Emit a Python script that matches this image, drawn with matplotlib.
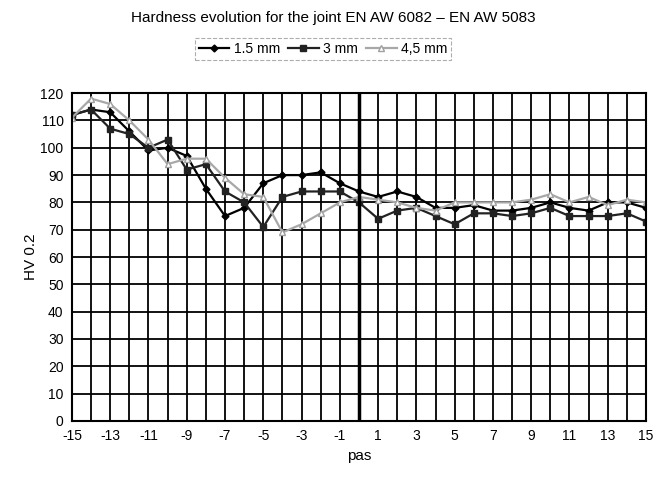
import matplotlib
matplotlib.use("Agg")
import matplotlib.pyplot as plt

plt.rcParams['font.family'] = ['Liberation Sans', 'DejaVu Sans']
plt.rcParams['axes.unicode_minus'] = False

pas = list(range(-15, 16))
hv_15 = [112, 114, 113, 106, 99, 100, 97, 85, 75, 78, 87, 90, 90, 91, 87, 84,
         82, 84, 82, 78, 78, 79, 77, 77, 78, 80, 78, 77, 80, 80, 78]
hv_3 = [112, 114, 107, 105, 100, 103, 92, 94, 84, 80, 71, 82, 84, 84, 84, 80,
        74, 77, 78, 75, 72, 76, 76, 75, 76, 78, 75, 75, 75, 76, 73]
hv_45 = [111, 118, 116, 110, 103, 94, 96, 96, 89, 83, 82, 69, 72, 76, 80, 82,
         81, 80, 78, 77, 80, 80, 80, 80, 81, 83, 80, 82, 79, 81, 80]

fig = plt.figure(figsize=(6.66, 4.8), dpi=100)
ax = fig.add_axes([0.108, 0.123, 0.862, 0.683])

ax.plot(pas, hv_15, color='black', lw=1.6, marker='D', ms=3.5, label='1.5 mm')
ax.plot(pas, hv_3, color='#222222', lw=1.6, marker='s', ms=5, label='3 mm')
ax.plot(pas, hv_45, color='#a8a8a8', lw=1.6, marker='^', ms=5, mfc='white',
        mec='#a0a0a0', label='4,5 mm')

ax.set_xlim(-15, 15)
ax.set_ylim(0, 120)
ax.set_xticks(range(-15, 16, 2))
ax.set_xticks(range(-15, 16), minor=True)
ax.set_yticks(range(0, 121, 10))
ax.grid(True, which='both', color='black', lw=1.3)
ax.axvline(0, color='black', lw=2.5)
for s in ax.spines.values():
    s.set_linewidth(1.5)
ax.tick_params(which='both', length=0, labelsize=10, pad=6)

ax.set_xlabel('pas', fontsize=11, labelpad=4)
ax.set_ylabel('HV 0.2', fontsize=11, labelpad=2)
fig.text(0.5, 0.962, 'Hardness evolution for the joint EN AW 6082 \u2013 EN AW 5083',
         ha='center', va='center', fontsize=11)

leg = fig.legend(loc='center', bbox_to_anchor=(0.485, 0.898), ncol=3,
                 fontsize=10, frameon=True, handlelength=2.2, columnspacing=0.6,
                 handletextpad=0.3, borderpad=0.3, fancybox=False)
leg.get_frame().set_edgecolor('#999999')
leg.get_frame().set_linestyle('--')
leg.get_frame().set_linewidth(0.8)

fig.savefig('out.png', dpi=100)
